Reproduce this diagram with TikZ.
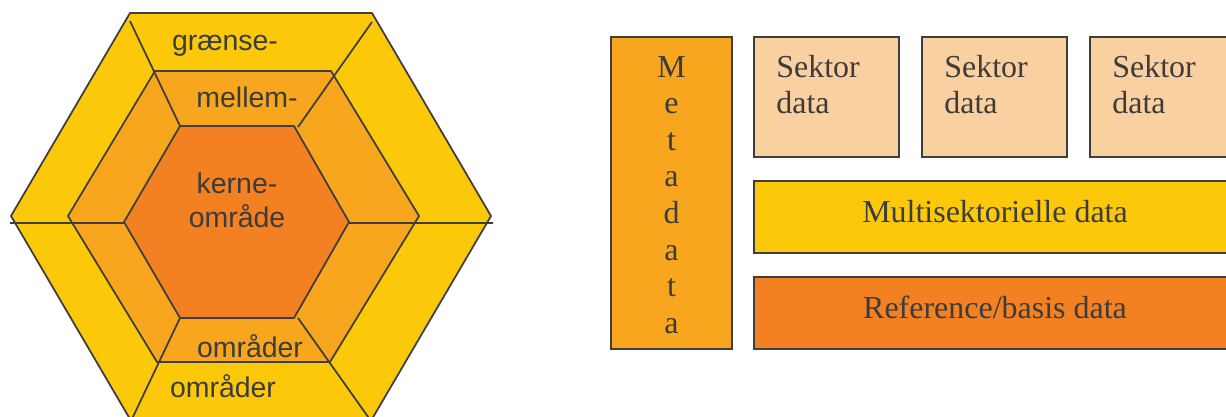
\documentclass[tikz,border=0pt]{standalone}
\usepackage{fontspec}
\setmainfont{Liberation Serif}
\newfontfamily\hexfont{Liberation Sans}

\definecolor{ringyellow}{RGB}{252,201,10}
\definecolor{ringorange}{RGB}{247,166,29}
\definecolor{coreorange}{RGB}{243,129,33}
\definecolor{sectorpeach}{RGB}{251,208,161}
\definecolor{linegray}{RGB}{62,62,62}
\definecolor{textgray}{RGB}{60,60,60}

\tikzset{
  hexedge/.style={draw=linegray, line width=1pt, line join=round},
  ringtext/.style={font=\hexfont\fontsize{16.2}{19}\selectfont, text=textgray, anchor=base, inner sep=0pt},
  datatext/.style={font=\fontsize{18.2}{21}\selectfont, text=textgray, inner sep=0pt},
  databox/.style={draw=linegray, line width=0.7pt},
}

\begin{document}
\begin{tikzpicture}[x=0.02cm, y=-0.02cm]
\useasboundingbox (0,0) rectangle (1226,416);
\clip (0,0) rectangle (1226,416);

% the three rings
\begin{scope}
\coordinate (o1) at (130,13);
\coordinate (o2) at (372,13);
\coordinate (o3) at (491,216);
\coordinate (o4) at (372,419);
\coordinate (o5) at (130,419);
\coordinate (o6) at (11,216);
\draw[hexedge, fill=ringyellow] (o1) -- (o2) -- (o3) -- (o4) -- (o5) -- (o6) -- cycle;

\coordinate (m1) at (155,71);
\coordinate (m2) at (331,71);
\coordinate (m3) at (419,216);
\coordinate (m4) at (330,362);
\coordinate (m5) at (157,362);
\coordinate (m6) at (68,216);
\draw[hexedge, fill=ringorange] (m1) -- (m2) -- (m3) -- (m4) -- (m5) -- (m6) -- cycle;

% middle line, hidden under the core
\coordinate (west) at (10,222.7);
\coordinate (east) at (493,222.7);
\draw[hexedge] (west) -- (east);

\coordinate (k1) at (180,126);
\coordinate (k2) at (294,126);
\coordinate (k3) at (349,222);
\coordinate (k4) at (294,318);
\coordinate (k5) at (180,318);
\coordinate (k6) at (124,222);
\draw[hexedge, fill=coreorange] (k1) -- (k2) -- (k3) -- (k4) -- (k5) -- (k6) -- cycle;

% dividing lines
\coordinate (ul) at (130,21);
\coordinate (ur) at (372,22);
\coordinate (ll) at (131,421);
\coordinate (lr) at (371,421);
\coordinate (ure) at (298,127);
\coordinate (lre) at (298,318);
\draw[hexedge] (ul) -- (k1);
\draw[hexedge] (ur) -- (ure);
\draw[hexedge] (k5) -- (ll);
\draw[hexedge] (lre) -- (lr);

\node[ringtext] (graense) at (225,50) {grænse-};
\node[ringtext] (mellem) at (247,107) {mellem-};
\node[ringtext] (kerne) at (237,193) {kerne-};
\node[ringtext] (omraade) at (237,227) {område};
\node[ringtext] (mellemomr) at (250,357) {områder};
\node[ringtext] (graenseomr) at (223,397) {områder};
\end{scope}

% the data layers
\begin{scope}
\draw[databox, fill=ringorange] (611,37) rectangle (732,349);
\foreach \ch [count=\i] in {M,e,t,a,d,a,t,a}
  \node[datatext, anchor=base] (meta\i) at (671.5,{40.4+36.6*\i}) {\ch};

\foreach \x [count=\i] in {754,922,1090} {
  \draw[databox, fill=sectorpeach] (\x,37) rectangle ({\x+145},157);
  \node[datatext, anchor=base west] (sektor\i) at ({\x+22},77) {Sektor};
  \node[datatext, anchor=base west] (data\i) at ({\x+22},113) {data};
}

\draw[databox, fill=ringyellow] (754,181) rectangle (1240,253);
\node[datatext, anchor=base] (multi) at (995,222) {Multisektorielle data};

\draw[databox, fill=coreorange] (754,277) rectangle (1240,349);
\node[datatext, anchor=base] (reference) at (995,318) {Reference/basis data};
\end{scope}

\end{tikzpicture}
\end{document}
